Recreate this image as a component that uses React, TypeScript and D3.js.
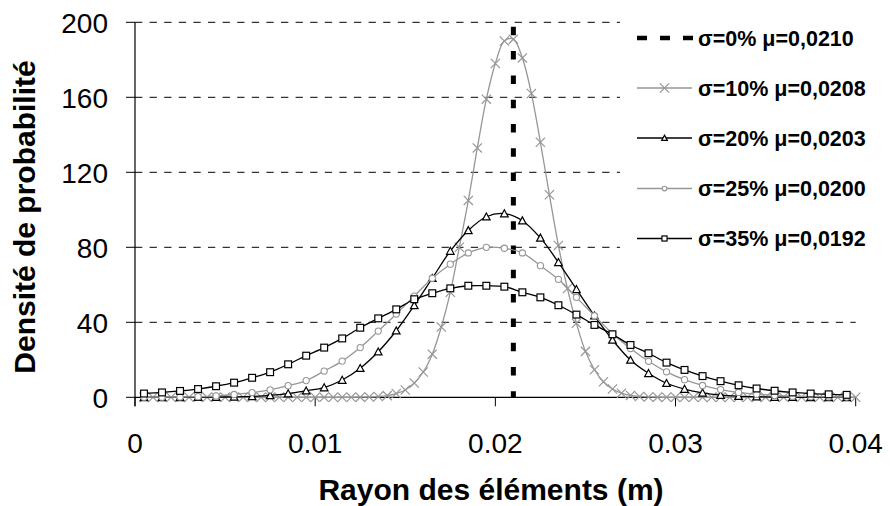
import React from "react";
import * as d3 from "d3";

// ---------- data ----------
const xFine = [
  0.0005, 0.001, 0.0015, 0.002, 0.0025, 0.003, 0.0035, 0.004, 0.0045, 0.005,
  0.0055, 0.006, 0.0065, 0.007, 0.0075, 0.008, 0.0085, 0.009, 0.0095, 0.01,
  0.0105, 0.011, 0.0115, 0.012, 0.0125, 0.013, 0.0135, 0.014, 0.0145, 0.015,
  0.0155, 0.016, 0.0165, 0.017, 0.0175, 0.018, 0.0185, 0.019, 0.0195, 0.02,
  0.0205, 0.021, 0.0215, 0.022, 0.0225, 0.023, 0.0235, 0.024, 0.0245, 0.025,
  0.0255, 0.026, 0.0265, 0.027, 0.0275, 0.028, 0.0285, 0.029, 0.0295, 0.03,
  0.0305, 0.031, 0.0315, 0.032, 0.0325, 0.033, 0.0335, 0.034, 0.0345, 0.035,
  0.0355, 0.036, 0.0365, 0.037, 0.0375, 0.038, 0.0385, 0.039, 0.0395, 0.04,
];
const xCoarse = [
  0.0005, 0.0015, 0.0025, 0.0035, 0.0045, 0.0055, 0.0065, 0.0075, 0.0085, 0.0095,
  0.0105, 0.0115, 0.0125, 0.0135, 0.0145, 0.0155, 0.0165, 0.0175, 0.0185, 0.0195,
  0.0205, 0.0215, 0.0225, 0.0235, 0.0245, 0.0255, 0.0265, 0.0275, 0.0285, 0.0295,
  0.0305, 0.0315, 0.0325, 0.0335, 0.0345, 0.0355, 0.0365, 0.0375, 0.0385, 0.0395,
];

const sigma0X = [0.021, 0.021];
const sigma0Y = [200, 0];

const sigma10 = [
  0, 0, 0, 0, 0, 0, 0, 0, 0, 0,
  0, 0, 0, 0, 0, 0, 0, 0, 0, 0,
  0, 0, 0, 0, 0.06, 0.16, 0.4, 0.9, 2.0, 3.9,
  7.6, 13.5, 23, 37.5, 56, 80, 105, 133, 159, 178,
  190, 191, 181, 162, 136, 108, 81, 58, 39.5, 24.5,
  14.7, 8.3, 4.4, 2.2, 1.0, 0.45, 0.18, 0.07, 0, 0,
  0, 0, 0, 0, 0, 0, 0, 0, 0, 0,
  0, 0, 0, 0, 0, 0, 0, 0, 0, 0,
];
const sigma20 = [
  0, 0, 0, 0.05, 0.1, 0.25, 0.5, 1.0, 2.0, 3.5,
  5.2, 9.2, 15.5, 24.3, 35.5, 49, 63.5, 78, 89, 96.3,
  98, 94.2, 85, 72, 57.6, 43.5, 30.6, 19.9, 12.8, 7.5,
  4.4, 2.4, 1.2, 0.6, 0.3, 0.13, 0.05, 0, 0, 0,
];
const sigma25 = [
  0.03, 0.07, 0.15, 0.35, 0.75, 1.5, 2.5, 4.0, 6.2, 8.9,
  14.0, 19.3, 26.5, 35.3, 44.4, 54, 63.5, 71, 77, 80,
  79.5, 77, 70.2, 62.9, 53.3, 43.5, 34, 26, 19.2, 13.6,
  9.4, 6.3, 4.1, 2.6, 1.6, 1.0, 0.6, 0.35, 0.2, 0.1,
];
const sigma35 = [
  2.0, 2.6, 3.4, 4.4, 5.9, 7.8, 10.4, 13.4, 17.6, 22.2,
  26.5, 31.4, 37.1, 42.1, 46.9, 52.3, 55.5, 58.1, 59.5, 59.5,
  59, 56, 53.3, 49.1, 44.1, 38.6, 33.6, 27.9, 23.5, 18.5,
  14.6, 11.3, 8.6, 6.4, 4.7, 3.5, 2.6, 2.0, 1.6, 1.3,
];

const legendLabels = [
  "σ=0% μ=0,0210",
  "σ=10% μ=0,0208",
  "σ=20% μ=0,0203",
  "σ=25% μ=0,0200",
  "σ=35% μ=0,0192",
];
const yTicks = [0, 40, 80, 120, 160, 200];
const xTicks = [0, 0.01, 0.02, 0.03, 0.04];
const xTickLabels = ["0", "0.01", "0.02", "0.03", "0.04"];
const yTitle = "Densité de probabilité";
const xTitle = "Rayon des éléments (m)";

// ---------- layout ----------
const W = 890;
const H = 506;
const left = 135;
const right = 855.7;
const top = 22.3;
const bottom = 397.3;
const GRAY = "#969696";
const FONT = "'Liberation Sans', Arial, Helvetica, sans-serif";

const x = d3.scaleLinear().domain([0, 0.04]).range([left, right]);
const y = d3.scaleLinear().domain([0, 200]).range([bottom, top]);

type Marker = "x" | "tri" | "circle" | "square";

function MarkerShape({ kind, cx, cy, color, s = 1 }: { kind: Marker; cx: number; cy: number; color: string; s?: number }) {
  if (kind === "x") {
    const r = 4.6 * s;
    return (
      <path
        d={`M${cx - r},${cy - r}L${cx + r},${cy + r}M${cx - r},${cy + r}L${cx + r},${cy - r}`}
        stroke={color}
        strokeWidth={1.2}
        fill="none"
      />
    );
  }
  if (kind === "tri") {
    const r = 3.8 * s;
    return (
      <path
        d={`M${cx},${cy - r}L${cx + r},${cy + r * 0.85}L${cx - r},${cy + r * 0.85}Z`}
        stroke={color}
        strokeWidth={1.2}
        fill="white"
      />
    );
  }
  if (kind === "circle") {
    return <circle cx={cx} cy={cy} r={3.1 * s} stroke={color} strokeWidth={1.1} fill="white" />;
  }
  const h = 3.4 * s;
  return <rect x={cx - h} y={cy - h} width={2 * h} height={2 * h} stroke={color} strokeWidth={1.2} fill="white" />;
}

const series = [
  { xs: xFine, ys: sigma10, color: GRAY, marker: "x" as Marker },
  { xs: xCoarse, ys: sigma20, color: "#000", marker: "tri" as Marker },
  { xs: xCoarse, ys: sigma25, color: GRAY, marker: "circle" as Marker },
  { xs: xCoarse, ys: sigma35, color: "#000", marker: "square" as Marker },
];

const line = d3
  .line<[number, number]>()
  .x((d) => x(d[0]))
  .y((d) => y(d[1]))
  .curve(d3.curveCatmullRom.alpha(0.5));

export default function App() {
  const legendX0 = 637;
  const legendX1 = 692;
  const legendRows = [38, 88, 138, 188.5, 238.5];
  const legendMarkers: (Marker | null)[] = [null, "x", "tri", "circle", "square"];
  const legendColors = ["#000", GRAY, "#000", GRAY, "#000"];

  return (
    <svg width={W} height={H} style={{ position: "absolute", left: 0, top: 0, background: "white" }} fontFamily={FONT}>
      <rect x={0} y={0} width={W} height={H} fill="white" />
      {/* gridlines */}
      {yTicks
        .filter((t) => t > 0)
        .map((t) => (
          <line
            key={"g" + t}
            x1={left}
            x2={right}
            y1={y(t)}
            y2={y(t)}
            stroke="#000"
            strokeWidth={1}
            strokeDasharray="7.3,7.3"
          />
        ))}
      {/* legend background */}
      <rect x={620} y={5} width={268} height={255} fill="white" />

      {/* axes */}
      <line x1={left} x2={left} y1={top} y2={bottom + 9} stroke="#000" strokeWidth={1.2} />
      <line x1={left} x2={right} y1={bottom} y2={bottom} stroke="#000" strokeWidth={1.2} />
      {yTicks.map((t) => (
        <g key={"yt" + t}>
          <line x1={left - 9} x2={left} y1={y(t)} y2={y(t)} stroke="#000" strokeWidth={1} />
          <text x={108} y={y(t)} dy="0.37em" textAnchor="end" fontSize={28} fill="#000">
            {t}
          </text>
        </g>
      ))}
      {xTicks.map((t, i) => (
        <g key={"xt" + t}>
          <line x1={x(t)} x2={x(t)} y1={bottom} y2={bottom + 9} stroke="#000" strokeWidth={1} />
          <text x={x(t)} y={453} textAnchor="middle" fontSize={28} fill="#000">
            {xTickLabels[i]}
          </text>
        </g>
      ))}

      {/* sigma 0 vertical dashed line */}
      <path
        d={line(sigma0X.map((v, i) => [v, sigma0Y[i]] as [number, number])) || ""}
        stroke="#000"
        strokeWidth={5}
        fill="none"
        strokeDasharray="8.5,15.8"
        strokeDashoffset={19.8}
      />

      {/* series */}
      {series.map((s, si) => {
        const pts = s.xs.map((v, i) => [v, s.ys[i]] as [number, number]);
        return (
          <g key={"s" + si}>
            <path d={line(pts) || ""} stroke={s.color} strokeWidth={1.3} fill="none" />
            {pts.map((p, i) => (
              <MarkerShape key={i} kind={s.marker} cx={x(p[0])} cy={y(p[1])} color={s.color} />
            ))}
          </g>
        );
      })}

      {/* legend */}
      {legendLabels.map((lab, i) => {
        const ly = legendRows[i];
        const m = legendMarkers[i];
        return (
          <g key={"l" + i}>
            {m === null ? (
              <line
                x1={legendX0}
                x2={legendX1 + 2}
                y1={ly}
                y2={ly}
                stroke="#000"
                strokeWidth={4.5}
                strokeDasharray="10,13"
              />
            ) : (
              <>
                <line x1={legendX0} x2={legendX1} y1={ly} y2={ly} stroke={legendColors[i]} strokeWidth={1.3} />
                <MarkerShape kind={m} cx={(legendX0 + legendX1) / 2} cy={ly} color={legendColors[i]} s={m === "x" ? 1 : 0.75} />
              </>
            )}
            <text x={698} y={ly} dy="0.36em" fontSize={21.5} fontWeight="bold" fill="#000">
              {lab}
            </text>
          </g>
        );
      })}

      {/* titles */}
      <text x={491} y={500} textAnchor="middle" fontSize={30} fontWeight="bold" fill="#000">
        {xTitle}
      </text>
      <text
        transform={`translate(35,217) rotate(-90)`}
        textAnchor="middle"
        fontSize={30}
        fontWeight="bold"
        fill="#000"
      >
        {yTitle}
      </text>
    </svg>
  );
}
